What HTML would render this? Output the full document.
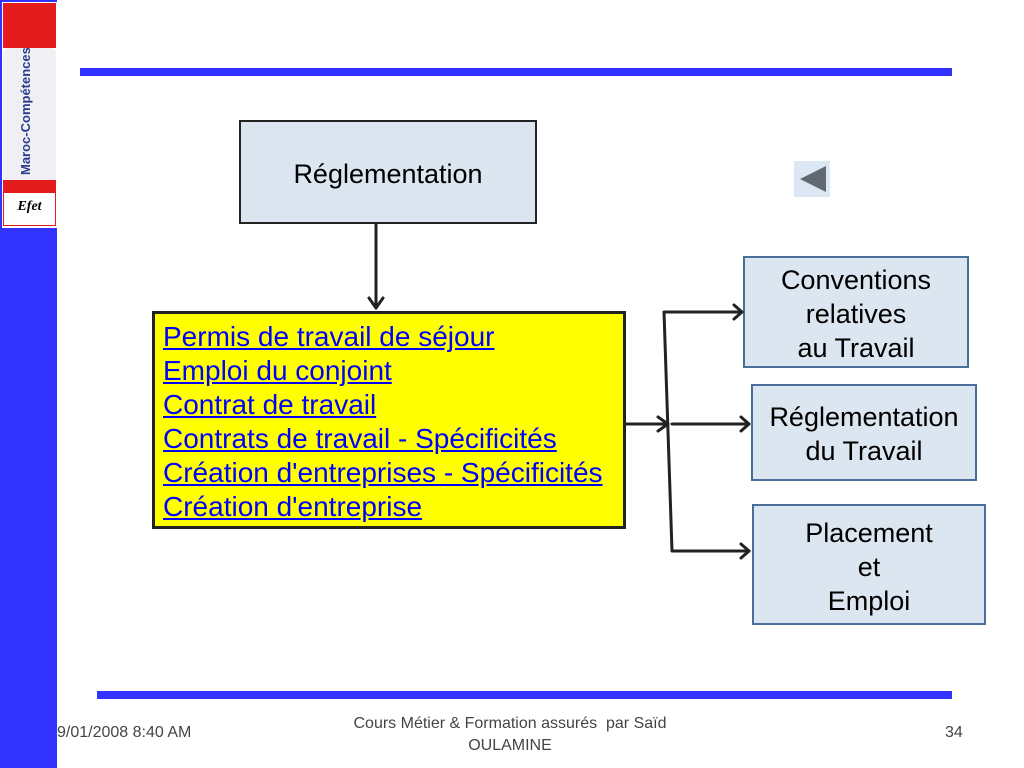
<!DOCTYPE html>
<html><head><meta charset="utf-8"><style>
body{margin:0;width:1024px;height:768px;position:relative;background:#fff;font-family:"Liberation Sans",sans-serif;overflow:hidden}
.b{position:absolute;box-sizing:border-box;text-align:center;font-size:27px;line-height:34px;color:#000;white-space:nowrap}
.foot{position:absolute;font-size:16px;color:#444;font-family:"Liberation Sans Narrow","Liberation Sans",sans-serif}
a{color:#00f}
</style></head><body>
<div style="position:absolute;left:0;top:0;width:57px;height:768px;background:#3333ff"></div>
<div style="position:absolute;left:2px;top:2px;width:55px;height:226px;background:#fff"></div>
<div style="position:absolute;left:3px;top:3px;width:53px;height:45px;background:#e41b1b"></div>
<div style="position:absolute;left:3px;top:48px;width:53px;height:135px;background:#f0f0f4;border-radius:6px"></div>
<div style="position:absolute;left:3px;top:180px;width:53px;height:12px;background:#e41b1b"></div>
<div style="position:absolute;left:-31px;top:104px;width:120px;height:22px;transform:rotate(-90deg);color:#2a3b8c;font-size:13px;font-weight:bold;text-align:center;white-space:nowrap;font-family:'Liberation Sans Narrow','Liberation Sans',sans-serif">Maroc-Compétences</div>
<div style="position:absolute;left:3px;top:192px;width:51px;height:32px;border:1px solid #e41b1b;background:#fff;font-family:'Liberation Serif',serif;font-style:italic;font-weight:bold;font-size:14px;line-height:28px;text-align:center">Efet</div>
<div style="position:absolute;left:80px;top:68px;width:872px;height:8px;background:#3333ff"></div>
<div style="position:absolute;left:97px;top:691px;width:855px;height:8px;background:#3333ff"></div>
<div class="b" style="left:239px;top:120px;width:298px;height:104px;background:#dce6f0;border:2px solid #222;padding-top:35px">Réglementation</div>
<div class="b" style="left:152px;top:311px;width:474px;height:218px;background:#ffff00;border:3px solid #222;text-align:left;padding:6px 0 0 8px;font-size:28px"><a href="#">Permis de travail de séjour</a><br><a href="#">Emploi du conjoint</a><br><a href="#">Contrat de travail</a><br><a href="#">Contrats de travail - Spécificités</a><br><a href="#">Création d'entreprises - Spécificités</a><br><a href="#">Création d'entreprise</a></div>
<div class="b" style="left:743px;top:256px;width:226px;height:112px;background:#dce6f0;border:2px solid #4a6e9a;padding-top:5px">Conventions<br>relatives<br>au Travail</div>
<div class="b" style="left:751px;top:384px;width:226px;height:97px;background:#dce6f0;border:2px solid #4a6e9a;padding-top:14px">Réglementation<br>du Travail</div>
<div class="b" style="left:752px;top:504px;width:234px;height:121px;background:#dce6f0;border:2px solid #4a6e9a;padding-top:10px">Placement<br>et<br>Emploi</div>
<div style="position:absolute;left:794px;top:161px;width:36px;height:36px;background:#dbe8f4"></div>
<svg width="1024" height="768" style="position:absolute;left:0;top:0">
<polygon points="800,179 826,166 826,192" fill="#606870"/>
<g stroke="#222" stroke-width="3" fill="none" stroke-linecap="round" stroke-linejoin="round">
<line x1="376" y1="224" x2="376" y2="308"/><polyline points="369,298 376,308 383,298"/>
<line x1="626" y1="424" x2="667" y2="424"/><polyline points="658,417 668,424 658,431"/>
<polyline points="742,312 664,312 672,551 749,551"/>
<line x1="672" y1="424" x2="749" y2="424"/>
<polyline points="734,305 742,312 734,319"/>
<polyline points="741,417 749,424 741,431"/>
<polyline points="741,544 749,551 741,558"/>
</g></svg>
<div class="foot" style="left:57px;top:724px">9/01/2008 8:40 AM</div>
<div class="foot" style="left:330px;top:713px;width:360px;text-align:center;line-height:22px">Cours Métier &amp; Formation assurés&nbsp; par Saïd<br>OULAMINE</div>
<div class="foot" style="left:945px;top:724px">34</div>
</body></html>
